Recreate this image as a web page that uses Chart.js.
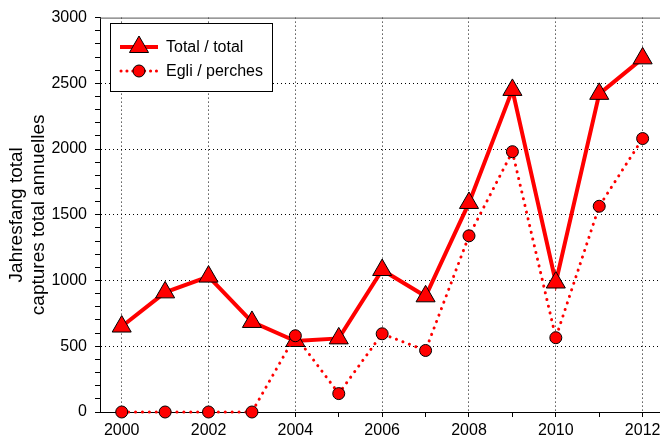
<!DOCTYPE html>
<html>
<head>
<meta charset="utf-8">
<script src="https://cdn.jsdelivr.net/npm/chart.js@4/dist/chart.umd.min.js"></script>
<style>
  html, body { margin: 0; padding: 0; background: #fff; }
  #wrap { width: 660px; height: 443px; position: relative; }
</style>
</head>
<body>
<div id="wrap"><canvas id="graph"></canvas></div>
<script>
const years = [2000, 2001, 2002, 2003, 2004, 2005, 2006, 2007, 2008, 2009, 2010, 2011, 2012]
const totalCatch = [650, 910, 1030, 685, 540, 560, 1080, 880, 1590, 2450, 985, 2420, 2690]
const perchCatch = [0, 0, 0, 0, 580, 140, 595, 468, 1340, 1980, 565, 1565, 2080]
const yTicks = [0, 500, 1000, 1500, 2000, 2500, 3000]
const seriesLabels = ['Total / total', 'Egli / perches']
const yTitle = ['Jahresfang total', 'captures total annuelles']

const RED = '#ff0000'
const FONT = "'Liberation Sans', Arial, sans-serif"
const DOTS = [0.1, 6.8]

Chart.defaults.font.family = FONT
Chart.defaults.color = '#000'

// legend box drawn inside the plot, plus grey top frame line
const frameAndLegend = {
  id: 'frameAndLegend',
  afterDraw(chart) {
    const ctx = chart.ctx
    const a = chart.chartArea
    ctx.save()
    ctx.strokeStyle = '#555'
    ctx.lineWidth = 1
    ctx.beginPath()
    ctx.moveTo(a.left, a.top + 0.5)
    ctx.lineTo(a.right, a.top + 0.5)
    ctx.stroke()

    // legend
    const bx = 110.5, by = 23.5, bw = 162, bh = 68
    ctx.fillStyle = '#fff'
    ctx.fillRect(bx, by, bw, bh)
    ctx.strokeStyle = '#000'
    ctx.strokeRect(bx, by, bw, bh)

    const rows = [47, 71]
    // row 1: solid line + triangle
    ctx.strokeStyle = RED
    ctx.lineWidth = 4
    ctx.beginPath()
    ctx.moveTo(120, rows[0]); ctx.lineTo(158, rows[0])
    ctx.stroke()
    ctx.beginPath()
    const r = 11
    for (let k = 0; k < 3; k++) {
      const ang = k * 2 * Math.PI / 3
      const px = 139 + Math.sin(ang) * r, py = rows[0] - Math.cos(ang) * r
      if (k === 0) ctx.moveTo(px, py); else ctx.lineTo(px, py)
    }
    ctx.closePath()
    ctx.fillStyle = RED
    ctx.fill()
    ctx.lineWidth = 1
    ctx.strokeStyle = '#000'
    ctx.stroke()

    // row 2: dotted line + circle
    ctx.strokeStyle = RED
    ctx.lineWidth = 3
    ctx.lineCap = 'round'
    ctx.setLineDash([0.1, 5.8])
    ctx.beginPath()
    ctx.moveTo(121, rows[1]); ctx.lineTo(158, rows[1])
    ctx.stroke()
    ctx.setLineDash([])
    ctx.beginPath()
    ctx.arc(139, rows[1], 6, 0, 2 * Math.PI)
    ctx.fillStyle = RED
    ctx.fill()
    ctx.lineWidth = 1
    ctx.strokeStyle = '#000'
    ctx.stroke()

    ctx.fillStyle = '#000'
    ctx.font = '16px ' + FONT
    ctx.textBaseline = 'middle'
    ctx.fillText(seriesLabels[0], 166, rows[0] + 1)
    ctx.fillText(seriesLabels[1], 166, rows[1] + 1)
    ctx.restore()
  }
}

const minorX = years
const minorY = []
for (let v = 0; v <= 3000; v += 100) minorY.push(v)

new Chart(document.getElementById('graph').getContext('2d'), {
  type: 'line',
  data: {
    datasets: [
      {
        label: seriesLabels[0],
        data: years.map((y, i) => ({ x: y, y: totalCatch[i] })),
        borderColor: RED,
        borderWidth: 4,
        pointStyle: 'triangle',
        pointRadius: 11,
        pointBackgroundColor: RED,
        pointBorderColor: '#000',
        pointBorderWidth: 1,
        tension: 0,
        order: 1
      },
      {
        label: seriesLabels[1],
        data: years.map((y, i) => ({ x: y, y: perchCatch[i] })),
        borderColor: RED,
        borderWidth: 3,
        borderDash: DOTS,
        borderCapStyle: 'round',
        pointStyle: 'circle',
        pointRadius: 6,
        pointBackgroundColor: RED,
        pointBorderColor: '#000',
        pointBorderWidth: 1,
        tension: 0,
        order: 0
      }
    ]
  },
  options: {
    responsive: true,
    maintainAspectRatio: false,
    animation: false,
    clip: false,
    layout: { autoPadding: false, padding: { top: 17, right: 0, left: 0, bottom: 0 } },
    plugins: {
      legend: { display: false },
      tooltip: { enabled: false }
    },
    scales: {
      x: {
        type: 'linear',
        min: 1999.5,
        max: 2012.4,
        afterBuildTicks: s => { s.ticks = minorX.map(v => ({ value: v })) },
        afterFit: s => { s.height = 31; s.paddingLeft = 0; s.paddingRight = 0 },
        border: { display: true, color: '#000', width: 1, dash: [1, 3] },
        grid: {
          color: c => (c.tick && c.tick.value % 2 === 0) ? '#000' : 'transparent',
          tickColor: '#000',
          tickLength: 5,
          lineWidth: 1
        },
        ticks: {
          autoSkip: false,
          maxRotation: 0,
          padding: 4,
          font: { size: 16 },
          callback: v => (v % 2 === 0 ? String(v) : '')
        }
      },
      y: {
        type: 'linear',
        min: 0,
        max: 3000,
        afterBuildTicks: s => { s.ticks = minorY.map(v => ({ value: v })) },
        afterFit: s => { s.width = 100 },
        border: { display: true, color: '#000', width: 1, dash: [1, 3] },
        grid: {
          color: c => (c.tick && c.tick.value % 500 === 0 && c.tick.value > 0 && c.tick.value < 3000) ? '#000' : 'transparent',
          tickColor: '#000',
          tickLength: 5,
          lineWidth: 1
        },
        ticks: {
          autoSkip: false,
          padding: 8,
          font: { size: 16 },
          callback: v => (yTicks.includes(v) ? String(v) : '')
        },
        title: {
          display: true,
          text: yTitle,
          font: { size: 19, lineHeight: 1.15 },
          padding: { top: 6, bottom: 0 }
        }
      }
    }
  },
  plugins: [frameAndLegend]
})
</script>
</body>
</html>
